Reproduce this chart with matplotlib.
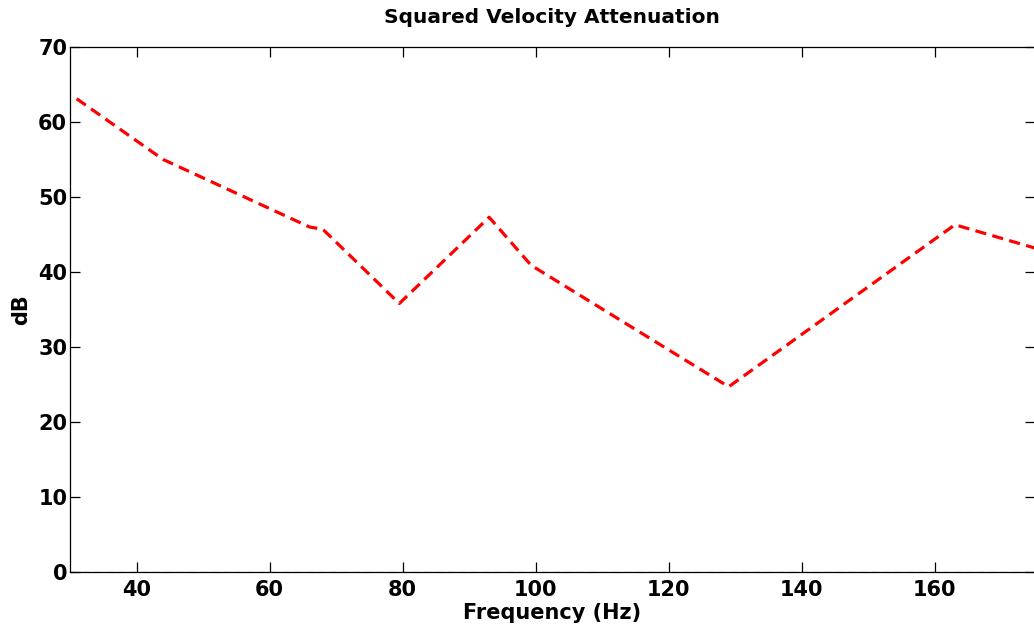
import numpy as np
import matplotlib.pyplot as plt

# Squared velocity attenuation vs frequency
freq = [31, 44, 66, 68, 79.5, 93, 99.3, 129, 163, 175]
atten_db = [63.1, 55.0, 46.0, 45.7, 35.8, 47.3, 40.9, 24.7, 46.3, 43.2]

# zero reference line
zero_x = [30, 175]
zero_y = [0, 0]

plt.rcParams['font.family'] = ['DejaVu Sans']
plt.rcParams['font.weight'] = 'bold'

fig = plt.figure(figsize=(10.34, 6.29), dpi=100)
ax = fig.add_axes([0.0677, 0.0906, 0.933, 0.8347])

ax.plot(zero_x, zero_y, 'k-.', linewidth=0.8)
ax.plot(freq, atten_db, '--', color='red', linewidth=2.3, dashes=(3.5, 2))

ax.set_xlim(30, 175)
ax.set_ylim(0, 70)
ax.set_xticks(np.arange(40, 180, 20))
ax.set_yticks(np.arange(0, 80, 10))
ax.tick_params(direction='in', length=7, width=0.9, top=True, right=True,
               labelsize=15)
ax.tick_params(axis='x', pad=6)
ax.tick_params(axis='y', pad=2)
for s in ax.spines.values():
    s.set_linewidth(0.9)

ax.set_title('Squared Velocity Attenuation', fontsize=14.5, fontweight='bold', pad=17)
ax.set_xlabel('Frequency (Hz)', fontsize=15, fontweight='bold', labelpad=2)
ax.set_ylabel('dB', fontsize=15, fontweight='bold', labelpad=5)

fig.savefig('out.png', dpi=100)
